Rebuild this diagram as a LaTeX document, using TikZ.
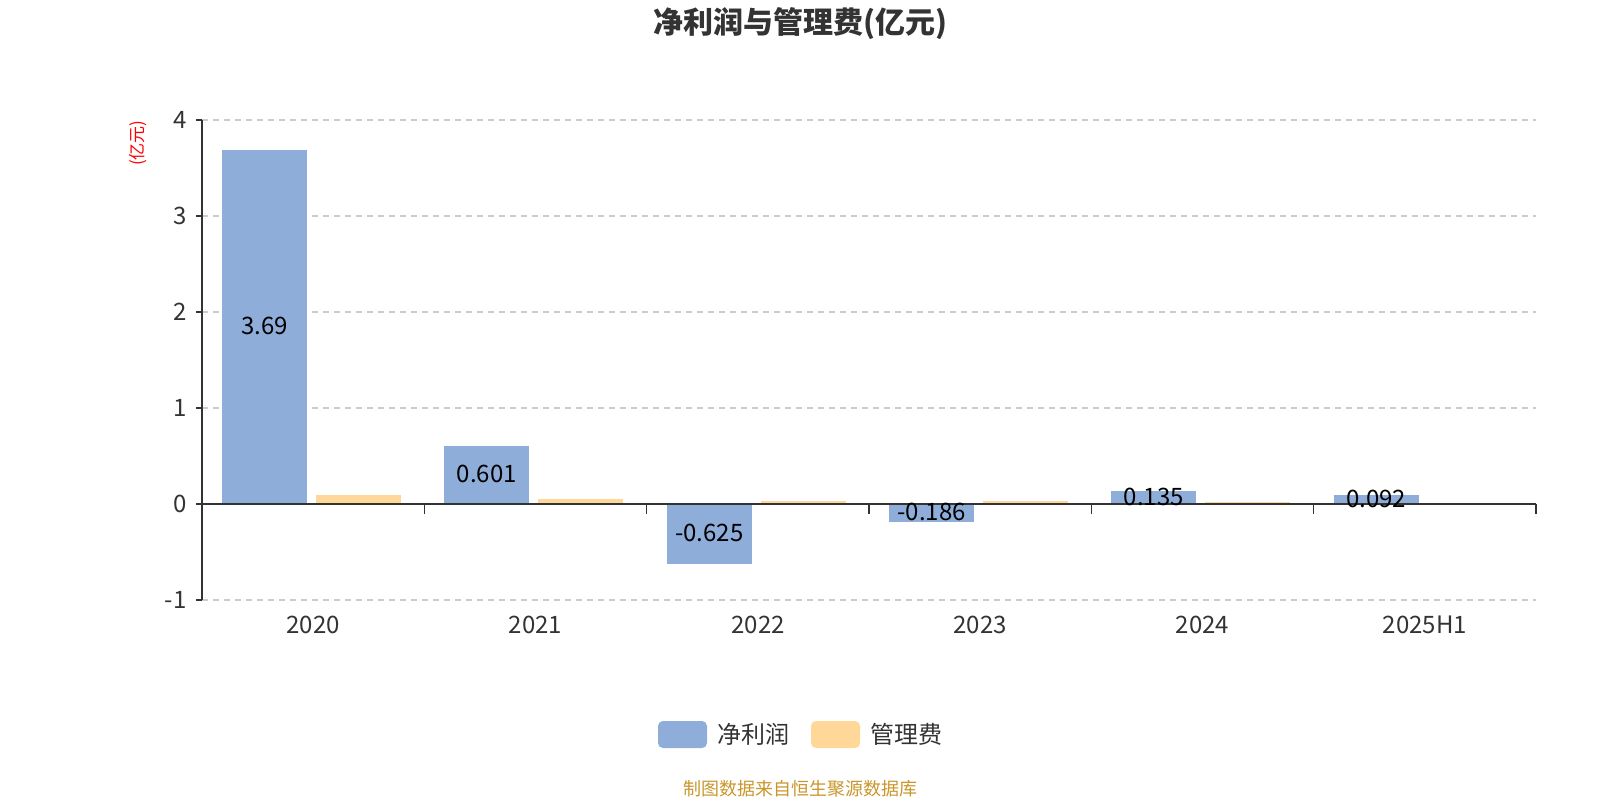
\documentclass[tikz,border=0pt]{standalone}
\usepackage{fontspec}
\setmainfont{Noto Sans CJK SC}
\usetikzlibrary{positioning}
\definecolor{netblue}{HTML}{8EADD9}
\definecolor{feeorange}{HTML}{FFD899}
\definecolor{axisgray}{HTML}{333333}
\definecolor{gridgray}{HTML}{CCCCCC}
\definecolor{srcgold}{HTML}{C9962B}

\begin{document}
\begin{tikzpicture}[x=0.5pt, y=-0.5pt,
  netbar/.style={fill=netblue, draw=none},
  feebar/.style={fill=feeorange, draw=none},
  gridline/.style={gridgray, line width=0.6pt, dash pattern=on 3pt off 2.5pt},
  ticklabel/.style={font=\fontsize{12}{14}\selectfont, text=axisgray, inner sep=0pt},
  vallabel/.style={font=\fontsize{12}{14}\selectfont, text=black, inner sep=0pt},
  keybox/.style={rounded corners=2.5pt, minimum width=24.5pt, minimum height=13.5pt, inner sep=0pt}]
\useasboundingbox (0,0) rectangle (1600,800);

% title
\node[font=\fontsize{15}{17}\selectfont\bfseries, text=axisgray] (title) at (800,24) {净利润与管理费(亿元)};
\node[rotate=90, font=\fontsize{8.5}{9}\selectfont, text=red] (unit) at (138,143) {(亿元)};

% grid
\draw[gridline] (202,120) -- (1536,120);
\draw[gridline] (202,216) -- (1536,216);
\draw[gridline] (202,312) -- (1536,312);
\draw[gridline] (202,408) -- (1536,408);
\draw[gridline] (202,600) -- (1536,600);

% bars
\fill[netbar] (222,504) rectangle (307,149.8);
\fill[feebar] (316,504) rectangle (401,494.6);
\fill[netbar] (444.3,504) rectangle (529.3,446.3);
\fill[feebar] (538.3,504) rectangle (623.3,499.2);
\fill[netbar] (666.7,504) rectangle (751.7,564);
\fill[feebar] (760.7,504) rectangle (845.7,500.9);
\fill[netbar] (889,504) rectangle (974,521.9);
\fill[feebar] (983,504) rectangle (1068,501.2);
\fill[netbar] (1111.3,504) rectangle (1196.3,491);
\fill[feebar] (1205.3,504) rectangle (1290.3,502.3);
\fill[netbar] (1333.7,504) rectangle (1418.7,495.2);
\fill[feebar] (1427.7,504) rectangle (1512.7,502.7);

% axes
\draw[axisgray, line width=0.75pt] (202,120) -- (202,600);
\draw[axisgray, line width=0.75pt] (196,120) -- (202,120);
\draw[axisgray, line width=0.75pt] (196,216) -- (202,216);
\draw[axisgray, line width=0.75pt] (196,312) -- (202,312);
\draw[axisgray, line width=0.75pt] (196,408) -- (202,408);
\draw[axisgray, line width=0.75pt] (196,504) -- (202,504);
\draw[axisgray, line width=0.75pt] (196,600) -- (202,600);
\draw[axisgray, line width=1pt] (202,504) -- (1536,504);
\draw[axisgray, line width=0.75pt] (424.3,504) -- (424.3,514);
\draw[axisgray, line width=0.75pt] (646.7,504) -- (646.7,514);
\draw[axisgray, line width=0.75pt] (869,504) -- (869,514);
\draw[axisgray, line width=0.75pt] (1091.3,504) -- (1091.3,514);
\draw[axisgray, line width=0.75pt] (1313.7,504) -- (1313.7,514);
\draw[axisgray, line width=0.75pt] (1536,504) -- (1536,514);

% y labels
\node[ticklabel, anchor=east] (y4) at (187,120) {4};
\node[ticklabel, anchor=east] (y3) at (187,216) {3};
\node[ticklabel, anchor=east] (y2) at (187,312) {2};
\node[ticklabel, anchor=east] (y1) at (187,408) {1};
\node[ticklabel, anchor=east] (y0) at (187,504) {0};
\node[ticklabel, anchor=east] (ym1) at (187,600) {-1};

% x labels
\node[ticklabel] (x20) at (313,625) {2020};
\node[ticklabel] (x21) at (535.5,625) {2021};
\node[ticklabel] (x22) at (758,625) {2022};
\node[ticklabel] (x23) at (980,625) {2023};
\node[ticklabel] (x24) at (1202.5,625) {2024};
\node[ticklabel] (x25) at (1425,625) {2025H1};

% values
\node[vallabel] (v20) at (264.5,326) {3.69};
\node[vallabel] (v21) at (486.8,474) {0.601};
\node[vallabel] (v22) at (709.2,533) {-0.625};
\node[vallabel] (v23) at (931.5,512) {-0.186};
\node[vallabel] (v24) at (1153.8,496.5) {0.135};
\node[vallabel] (v25) at (1376.2,498.6) {0.092};

% legend
\node[keybox, fill=netblue] (key1) at (682.5,734.5) {};
\node[ticklabel, right=5pt of key1] (key1text) {净利润};
\node[keybox, fill=feeorange] (key2) at (835.5,734.5) {};
\node[ticklabel, right=5pt of key2] (key2text) {管理费};

\node[font=\fontsize{9}{10}\selectfont, text=srcgold] (source) at (800,789) {制图数据来自恒生聚源数据库};
\end{tikzpicture}
\end{document}
